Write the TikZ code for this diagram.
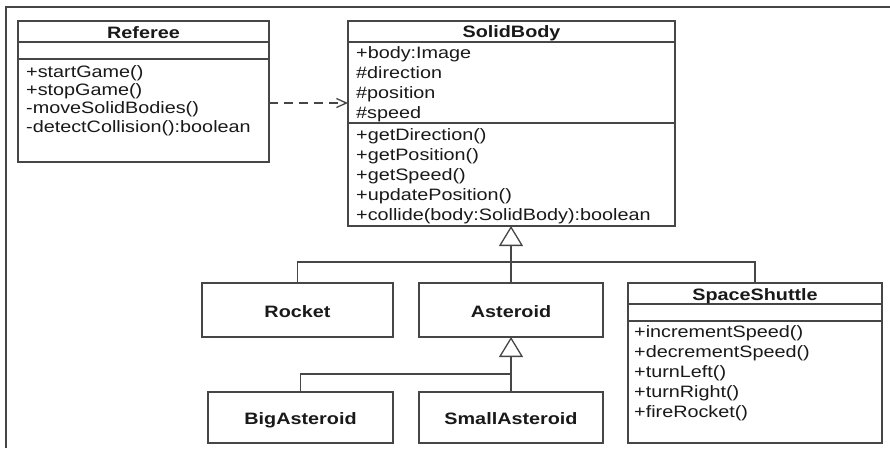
\documentclass[tikz,border=0pt]{standalone}
\usepackage{fontspec}
\setmainfont{Liberation Sans}[FakeStretch=1.2]
\usetikzlibrary{arrows.meta}
\definecolor{ln}{RGB}{70,70,70}
\definecolor{tx}{RGB}{25,25,25}
\begin{document}
\begin{tikzpicture}[x=1pt,y=-1pt,
  box/.style={draw=ln, line width=1.3pt, rectangle, inner sep=0pt, outer sep=0pt, anchor=north west},
  ttl/.style={anchor=base, inner sep=0pt, font=\fontsize{16.5}{20}\selectfont\bfseries, text=tx},
  mem/.style={anchor=base west, inner sep=0pt, font=\fontsize{16.5}{20}\selectfont, text=tx},
  sep/.style={draw=ln, line width=1.3pt},
  conn/.style={draw=ln, line width=1.3pt},
  inherit/.style={draw=ln, line width=1.3pt, -{Triangle[open, length=20pt, width=24pt]}},
  dep/.style={draw=ln, line width=1.3pt, dash pattern=on 9pt off 6pt, -{Straight Barb[length=10pt, width=9pt]}},
  frame/.style={draw=ln, line width=1.5pt}]
\useasboundingbox (0,0) rectangle (890,448);
\fill[white] (0,0) rectangle (890,448);
% frame (top and left edges)
\draw[frame] (6,448) -- (6,7) -- (890,7);

% ---------- Referee ----------
\node[box, minimum width=251pt, minimum height=141pt] (referee) at (18,21) {};
\coordinate (ry1) at (0,42);
\coordinate (ry2) at (0,59);
\draw[sep] (referee.west |- ry1) -- (referee.east |- ry1);
\draw[sep] (referee.west |- ry2) -- (referee.east |- ry2);
\node[ttl] (refT) at (143.5,38) {Referee};
\node[mem] (ref1) at (26,77) {+startGame()};
\node[mem] (ref2) at (26,95) {+stopGame()};
\node[mem] (ref3) at (26,113) {-moveSolidBodies()};
\node[mem] (ref4) at (26,132) {-detectCollision():boolean};

% ---------- SolidBody ----------
\node[box, minimum width=327pt, minimum height=205pt] (solid) at (348,21) {};
\coordinate (sy1) at (0,42);
\coordinate (sy2) at (0,123);
\draw[sep] (solid.west |- sy1) -- (solid.east |- sy1);
\draw[sep] (solid.west |- sy2) -- (solid.east |- sy2);
\node[ttl] (solT) at (511.5,37) {SolidBody};
\node[mem] (sa1) at (356,58) {+body:Image};
\node[mem] (sa2) at (356,78) {\#direction};
\node[mem] (sa3) at (356,98) {\#position};
\node[mem] (sa4) at (356,118) {\#speed};
\node[mem] (sm1) at (356,140) {+getDirection()};
\node[mem] (sm2) at (356,160) {+getPosition()};
\node[mem] (sm3) at (356,180) {+getSpeed()};
\node[mem] (sm4) at (356,200) {+updatePosition()};
\node[mem] (sm5) at (356,220) {+collide(body:SolidBody):boolean};

% ---------- Rocket / Asteroid ----------
\node[box, minimum width=191pt, minimum height=54pt] (rocket) at (202,283) {};
\node[ttl] (rocT) at (297.5,317) {Rocket};
\node[box, minimum width=184pt, minimum height=54pt] (asteroid) at (419,283) {};
\node[ttl] (astT) at (511,317) {Asteroid};

% ---------- SpaceShuttle ----------
\node[box, minimum width=254pt, minimum height=160pt] (shuttle) at (628,283) {};
\coordinate (hy1) at (0,304);
\coordinate (hy2) at (0,321);
\draw[sep] (shuttle.west |- hy1) -- (shuttle.east |- hy1);
\draw[sep] (shuttle.west |- hy2) -- (shuttle.east |- hy2);
\node[ttl] (shuT) at (755,300) {SpaceShuttle};
\node[mem] (sh1) at (634,337) {+incrementSpeed()};
\node[mem] (sh2) at (634,357) {+decrementSpeed()};
\node[mem] (sh3) at (634,377) {+turnLeft()};
\node[mem] (sh4) at (634,397) {+turnRight()};
\node[mem] (sh5) at (634,417) {+fireRocket()};

% ---------- Big / Small Asteroid ----------
\node[box, minimum width=185pt, minimum height=51pt] (big) at (208,392) {};
\node[ttl] (bigT) at (300.5,424) {BigAsteroid};
\node[box, minimum width=184pt, minimum height=51pt] (small) at (419,392) {};
\node[ttl] (smaT) at (511,424) {SmallAsteroid};

% ---------- connectors ----------
\coordinate (dy) at (0,103);
\draw[dep] (referee.east |- dy) -- (solid.west |- dy);

\coordinate (j1) at (511,262);
\draw[conn] (rocket.north) |- (j1) -| (shuttle.north);
\draw[inherit] (asteroid.north) -- (solid.south -| asteroid.north);

\coordinate (j2) at (511,374);
\draw[conn] (big.north) |- (j2);
\draw[inherit] (small.north) -- (asteroid.south);
\end{tikzpicture}
\end{document}
